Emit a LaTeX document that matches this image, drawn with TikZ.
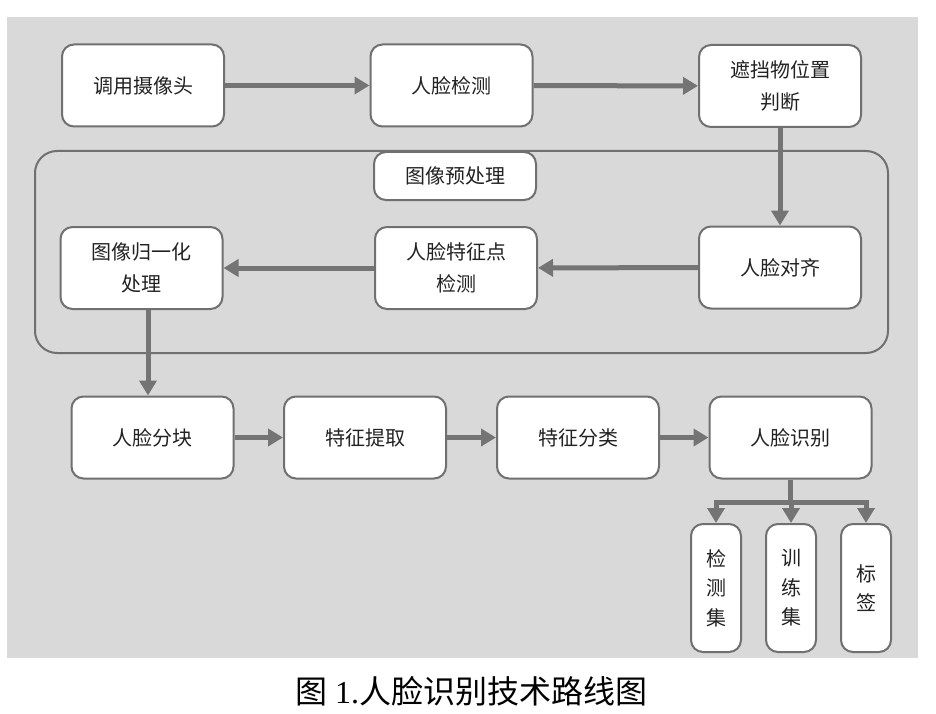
\documentclass[tikz,border=0pt]{standalone}
\usepackage{fontspec}
\newfontfamily\cjk{Noto Sans CJK SC}
\newfontfamily\capserif{Liberation Serif}
\usetikzlibrary{arrows.meta,calc}
\definecolor{bggray}{HTML}{D9D9D9}
\definecolor{edgegray}{HTML}{707070}
\definecolor{arrowgray}{HTML}{747474}
\definecolor{txt}{HTML}{222222}
\tikzset{
  box/.style={draw=edgegray, line width=2pt, fill=white, rounded corners=12pt,
    minimum width=162pt, minimum height=82pt, inner sep=0pt, align=center,
    text=txt, font=\cjk\fontsize{20}{32}\selectfont},
  tallbox/.style={box, minimum width=50pt, minimum height=128pt,
    font=\cjk\fontsize{20}{29.5}\selectfont},
  labelbox/.style={box, minimum width=162pt, minimum height=48pt},
  arr/.style={draw=arrowgray, line width=5pt,
    -{Triangle[length=15pt,width=17pt]}, fill=arrowgray},
  plainline/.style={draw=arrowgray, line width=5pt, line cap=rect}
}
\begin{document}
\begin{tikzpicture}[x=1pt,y=-1pt]
\useasboundingbox (0,0) rectangle (936,714);
\fill[white] (0,0) rectangle (936,714);
\fill[bggray] (7,17) rectangle (918,658);
% preprocessing container
\draw[edgegray, line width=2pt, rounded corners=22pt] (35,151) rectangle (888,353);
\node[labelbox] (pre) at (455,176) {图像预处理};
% row 1
\node[box] (cam) at (143,85.5) {调用摄像头};
\node[box] (det) at (451.5,85.5) {人脸检测};
\node[box] (occ) at (780,86) {遮挡物位置\\判断};
% row 2
\node[box] (norm) at (141.5,268) {图像归一化\\处理};
\node[box] (lmk) at (456,268) {人脸特征点\\检测};
\node[box] (aln) at (780,267.5) {人脸对齐};
% row 3
\node[box] (blk) at (152.5,437.5) {人脸分块};
\node[box] (feat) at (365,437.5) {特征提取};
\node[box] (cls) at (578,437.5) {特征分类};
\node[box] (rec) at (790.5,437.5) {人脸识别};
% bottom
\node[tallbox] (c1) at (716,588) {检\\测\\集};
\node[tallbox] (c2) at (791,588) {训\\练\\集};
\node[tallbox] (c3) at (866,588) {标\\签};
% arrows
\draw[arr] (cam) -- (det);
\draw[arr] (det) -- (occ);
\draw[arr] (occ) -- (aln);
\draw[arr] (aln) -- (lmk);
\draw[arr] (lmk) -- (norm);
\draw[arr] ([xshift=6.5pt]norm.south) -- ([xshift=6.5pt]norm.south |- blk.north);
\draw[arr] (blk) -- (feat);
\draw[arr] (feat) -- (cls);
\draw[arr] (cls) -- (rec);
\coordinate (br) at ($(rec.south)+(0,23)$);
\draw[draw=arrowgray, line width=5pt] (rec.south) -- (br);
\draw[plainline] (br -| c1.north) -- (br -| c3.north);
\draw[arr] (br -| c1.north) -- (c1.north);
\draw[arr] (br -| c2.north) -- (c2.north);
\draw[arr] (br -| c3.north) -- (c3.north);
% caption
\node[text=black, inner sep=0pt] (cap) at (471,691)
  {\cjk\fontsize{32}{32}\selectfont 图\capserif\ 1.\cjk 人脸识别技术路线图};
\end{tikzpicture}
\end{document}
